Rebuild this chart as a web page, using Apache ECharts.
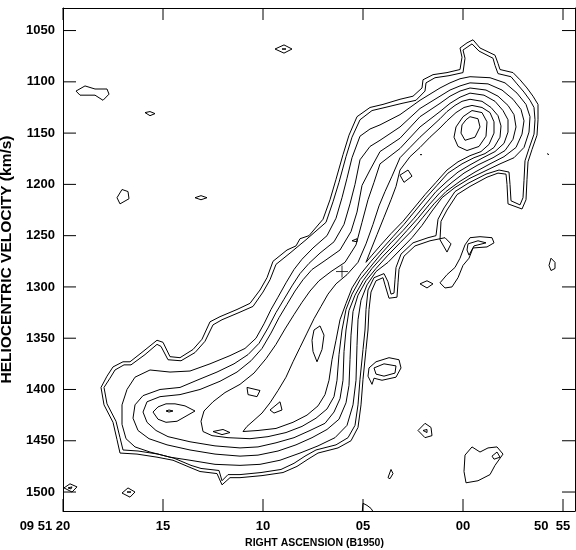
<!DOCTYPE html>
<html>
<head>
<meta charset="utf-8">
<script src="https://cdn.jsdelivr.net/npm/echarts@6/dist/echarts.min.js"></script>
<style>
html, body { margin: 0; padding: 0; background: #fff; }
#chart { width: 576px; height: 550px; }
</style>
</head>
<body>
<div id="chart"></div>
<script>
// axis ticks: RA is given in seconds after 09 51 00 (negative = 09 50 ..)
let raTicks = [20, 15, 10, 5, 0, -5];
let raLabels = ['09 51 20          ', '15', '10', '05', '00', '50  55      '];
let velTicks = [1050, 1100, 1150, 1200, 1250, 1300, 1350, 1400, 1450, 1500];
let raMin = -5.6, raMax = 20;
let velMin = 1028, velMax = 1518.5;

// contours, points are [RA s, velocity km/s]
let outer1 = [[-0.50,1059],[-0.85,1067],[-1.60,1074],[-1.75,1082],[-1.85,1088],[-2.50,1091],[-2.85,1098],[-3.20,1106],[-3.50,1114],[-3.75,1122],[-3.75,1137],[-3.70,1152],[-3.45,1166],[-3.25,1178],[-3.20,1195],[-3.15,1215],[-2.95,1224],[-2.25,1219],[-2.20,1200],[-2.15,1190],[-1.75,1189],[-1.20,1193],[-0.35,1202],[0.30,1210],[0.80,1225],[1.10,1236],[1.15,1254],[0.80,1266],[0.60,1258],[0.90,1252],[1.65,1255],[2.40,1260],[2.95,1270],[3.20,1283],[3.25,1296],[3.30,1310],[3.70,1311],[3.90,1298],[4.00,1291],[4.35,1294],[4.60,1305],[4.70,1322],[4.75,1342],[4.85,1361],[5.00,1390],[5.10,1415],[5.25,1437],[5.60,1450],[6.25,1457],[7.25,1462],[7.75,1468],[8.30,1475],[9.00,1481],[10.05,1484],[11.15,1486],[11.65,1486],[12.05,1493],[12.30,1482],[13.15,1480],[13.65,1476],[14.50,1469],[15.30,1466],[16.30,1463],[17.15,1462],[17.30,1449],[17.50,1432],[17.95,1415],[18.10,1398],[17.80,1387],[17.50,1378],[17.00,1373],[16.65,1373],[16.00,1363],[15.30,1352],[15.00,1354],[14.65,1368],[14.15,1369],[13.50,1361],[13.05,1351],[12.65,1334],[12.15,1329],[11.30,1322],[10.65,1316],[10.15,1303],[9.80,1291],[9.50,1275],[8.80,1264],[8.35,1260],[8.15,1253],[7.70,1250],[7.00,1234],[6.65,1215],[6.35,1195],[6.00,1171],[5.70,1152],[5.30,1134],[4.65,1125],[4.00,1122],[3.15,1117],[2.50,1114],[2.05,1106],[2.00,1098],[1.50,1093],[0.80,1091],[0.15,1088],[0.05,1076],[0.15,1067],[-0.20,1062],[-0.50,1059]];
let outer2 = [[-0.45,1063],[-0.80,1070],[-1.50,1077],[-1.60,1084],[-1.75,1092],[-2.40,1095],[-2.70,1102],[-3.05,1110],[-3.35,1118],[-3.55,1125],[-3.60,1137],[-3.55,1151],[-3.30,1165],[-3.10,1177],[-3.05,1196],[-3.00,1213],[-2.85,1220],[-2.40,1216],[-2.35,1200],[-2.30,1188],[-1.80,1186],[-1.15,1190],[-0.25,1199],[0.40,1207],[0.95,1223],[1.25,1234],[1.35,1250],[1.75,1252],[2.50,1257],[3.10,1268],[3.35,1281],[3.40,1293],[3.45,1306],[3.60,1307],[3.75,1295],[3.95,1287],[4.45,1291],[4.75,1303],[4.85,1322],[4.90,1342],[5.00,1361],[5.15,1390],[5.25,1415],[5.40,1435],[5.75,1447],[6.35,1454],[7.35,1459],[7.90,1465],[8.45,1472],[9.10,1478],[10.10,1481],[11.15,1483],[11.75,1483],[12.05,1489],[12.20,1479],[13.10,1477],[13.60,1474],[14.45,1467],[15.25,1463],[16.25,1460],[17.00,1459],[17.15,1447],[17.35,1431],[17.80,1414],[17.95,1398],[17.65,1389],[17.40,1381],[16.95,1376],[16.60,1376],[15.90,1366],[15.30,1356],[15.10,1358],[14.75,1371],[14.10,1372],[13.40,1364],[12.90,1353],[12.50,1337],[12.05,1332],[11.20,1325],[10.50,1319],[10.00,1305],[9.65,1293],[9.35,1278],[8.65,1267],[7.85,1254],[6.85,1237],[6.50,1217],[6.20,1198],[5.85,1173],[5.55,1154],[5.15,1137],[4.55,1128],[3.90,1125],[3.05,1121],[2.35,1118],[1.90,1109],[1.85,1101],[1.40,1096],[0.70,1094],[0.00,1091],[-0.10,1077],[0.00,1069],[-0.30,1065],[-0.45,1063]];
let level3 = [[-0.35,1095],[-1.35,1096],[-2.10,1101],[-2.70,1111],[-3.15,1122],[-3.35,1134],[-3.30,1149],[-3.05,1164],[-2.55,1174],[-1.85,1180],[-1.10,1187],[-0.35,1194],[0.40,1203],[1.05,1213],[1.55,1226],[2.05,1240],[2.55,1252],[3.15,1264],[3.75,1276],[4.35,1285],[4.80,1298],[5.10,1313],[5.25,1332],[5.30,1357],[5.35,1391],[5.50,1415],[5.80,1435],[6.40,1447],[7.25,1455],[8.15,1462],[9.15,1469],[10.15,1473],[11.15,1474],[12.40,1473],[13.65,1469],[14.65,1466],[15.65,1461],[16.40,1456],[16.85,1448],[17.05,1434],[17.05,1415],[16.80,1400],[16.40,1388],[15.65,1381],[14.65,1383],[13.65,1382],[12.65,1375],[11.65,1367],[10.90,1360],[10.35,1350],[9.95,1336],[9.60,1322],[9.25,1310],[8.85,1296],[8.45,1283],[8.05,1273],[7.50,1262],[6.80,1250],[6.35,1233],[6.05,1213],[5.80,1194],[5.55,1174],[5.15,1153],[4.65,1146],[4.15,1142],[3.15,1132],[2.15,1118],[1.15,1106],[0.65,1101],[0.15,1097],[-0.35,1095]];
let level4 = [[-0.35,1101],[-1.25,1102],[-1.95,1108],[-2.50,1117],[-2.90,1127],[-3.05,1138],[-2.95,1151],[-2.65,1164],[-2.05,1173],[-1.35,1180],[-0.60,1188],[0.15,1197],[0.85,1207],[1.45,1219],[2.00,1232],[2.55,1245],[3.15,1257],[3.75,1269],[4.35,1282],[4.85,1294],[5.25,1308],[5.50,1324],[5.60,1347],[5.65,1371],[5.70,1396],[5.85,1413],[6.20,1429],[6.80,1439],[7.55,1447],[8.35,1454],[9.25,1460],[10.25,1464],[11.15,1465],[12.40,1463],[13.65,1459],[14.80,1454],[15.70,1448],[16.25,1440],[16.50,1428],[16.40,1415],[16.00,1406],[15.15,1400],[14.15,1398],[13.30,1391],[12.30,1383],[11.45,1375],[10.75,1366],[10.20,1355],[9.75,1340],[9.35,1325],[8.95,1312],[8.55,1299],[8.15,1287],[7.70,1277],[7.15,1267],[6.45,1256],[5.95,1239],[5.65,1219],[5.40,1200],[5.15,1176],[4.65,1163],[4.15,1157],[3.15,1144],[2.15,1126],[1.15,1114],[0.65,1108],[0.15,1104],[-0.35,1101]];
let level5 = [[-0.35,1106],[-1.15,1108],[-1.75,1114],[-2.25,1123],[-2.55,1132],[-2.65,1144],[-2.50,1156],[-2.10,1167],[-1.50,1174],[-0.75,1181],[-0.05,1189],[0.55,1198],[1.15,1208],[1.70,1220],[2.25,1233],[2.80,1245],[3.40,1258],[4.00,1270],[4.55,1282],[5.00,1294],[5.40,1308],[5.70,1323],[5.85,1342],[5.95,1363],[6.00,1391],[6.15,1409],[6.45,1422],[6.90,1433],[7.65,1440],[8.45,1447],[9.35,1452],[10.25,1456],[11.15,1457],[12.40,1455],[13.65,1451],[14.75,1446],[15.35,1440],[15.80,1432],[16.00,1422],[15.80,1412],[15.15,1407],[14.15,1405],[13.15,1400],[12.15,1392],[11.30,1383],[10.60,1372],[10.05,1360],[9.60,1345],[9.20,1330],[8.80,1317],[8.40,1304],[8.00,1293],[7.55,1283],[6.95,1275],[6.15,1264],[5.60,1246],[5.30,1227],[5.05,1201],[4.65,1186],[4.15,1168],[3.15,1155],[2.15,1134],[1.15,1121],[0.65,1114],[0.15,1109],[-0.35,1106]];
let level6 = [[-0.35,1111],[-1.05,1113],[-1.60,1119],[-2.00,1128],[-2.25,1137],[-2.25,1149],[-2.05,1160],[-1.60,1168],[-1.00,1174],[-0.35,1181],[0.25,1188],[0.80,1197],[1.35,1207],[1.90,1220],[2.45,1233],[3.00,1245],[3.60,1257],[4.15,1269],[4.65,1281],[5.15,1293],[5.55,1307],[5.85,1322],[6.05,1342],[6.20,1366],[6.30,1391],[6.45,1407],[6.80,1419],[7.35,1428],[8.05,1436],[8.85,1442],[9.75,1446],[10.65,1448],[11.75,1447],[12.55,1445],[13.00,1441],[13.10,1431],[12.95,1421],[12.50,1412],[11.90,1403],[11.15,1395],[10.45,1384],[9.85,1370],[9.35,1356],[8.90,1341],[8.45,1327],[8.05,1315],[7.65,1304],[7.20,1294],[6.60,1285],[5.90,1276],[5.35,1259],[5.05,1237],[4.75,1215],[4.45,1198],[4.15,1180],[3.15,1165],[2.15,1144],[1.15,1129],[0.65,1121],[0.15,1115],[-0.35,1111]];
let level7 = [[-0.35,1117],[-0.95,1119],[-1.40,1125],[-1.75,1133],[-1.90,1143],[-1.85,1154],[-1.55,1164],[-1.10,1170],[-0.55,1174],[0.05,1180],[0.75,1189],[1.30,1201],[1.85,1213],[2.40,1226],[2.95,1239],[3.50,1251],[4.05,1263],[4.60,1275],[5.10,1287],[5.55,1301],[5.85,1316],[6.15,1332],[6.35,1352],[6.55,1371],[6.70,1391],[6.90,1405],[7.25,1416],[7.80,1425],[8.50,1432],[9.35,1438],[10.25,1440],[11.00,1441],[10.80,1436],[10.45,1430],[10.05,1423],[9.65,1413],[9.25,1401],[8.85,1388],[8.50,1373],[8.15,1359],[7.80,1345],[7.45,1331],[7.10,1319],[6.75,1307],[6.35,1297],[5.80,1288],[5.25,1276],[4.85,1258],[4.50,1239],[4.20,1221],[3.90,1207],[3.55,1192],[3.15,1174],[2.65,1164],[2.15,1154],[1.65,1145],[1.15,1136],[0.80,1129],[0.40,1123],[0.05,1119],[-0.35,1117]];
let level8 = [[-0.45,1123],[-0.95,1125],[-1.35,1130],[-1.55,1139],[-1.55,1150],[-1.30,1161],[-0.90,1168],[-0.35,1172],[0.25,1178],[0.80,1186],[1.35,1198],[1.90,1210],[2.45,1223],[3.00,1236],[3.60,1248],[4.15,1260],[4.55,1269],[4.85,1276],[4.65,1266],[4.30,1249],[3.95,1232],[3.60,1215],[3.35,1202],[3.15,1186],[2.65,1173],[2.15,1164],[1.65,1154],[1.15,1145],[0.80,1138],[0.35,1130],[-0.05,1125],[-0.45,1123]];
let ringA2 = [[-0.45,1128],[-0.95,1130],[-1.20,1139],[-1.15,1153],[-0.80,1163],[-0.20,1167],[0.25,1163],[0.45,1154],[0.35,1144],[0.00,1134],[-0.45,1128]];
let ringA1 = [[-0.35,1134],[-0.75,1136],[-0.85,1144],[-0.60,1154],[-0.10,1157],[0.10,1150],[0.05,1142],[-0.15,1137],[-0.35,1134]];
let eyeB = [[15.50,1422],[15.25,1417],[14.85,1414],[14.40,1414],[13.90,1416],[13.40,1421],[13.85,1426],[14.30,1431],[14.85,1432],[15.25,1429],[15.50,1422]];
let dotB = [[14.85,1421],[14.70,1420],[14.50,1421],[14.70,1422],[14.85,1421]];

// small isolated contours
let islands = [
  [[9.40,1068],[8.95,1064],[8.55,1068],[8.95,1072],[9.40,1068]],
  [[9.05,1068],[8.95,1067],[8.85,1068],[8.95,1069],[9.05,1068]],
  [[19.35,1109],[18.90,1104],[18.40,1107],[17.80,1107],[17.70,1112],[18.00,1118],[18.40,1113],[19.15,1113],[19.35,1109]],
  [[15.90,1130],[15.65,1129],[15.40,1131],[15.65,1133],[15.90,1130]],
  [[17.05,1205],[16.75,1207],[16.70,1214],[17.15,1219],[17.30,1213],[17.05,1205]],
  [[13.40,1213],[13.10,1211],[12.80,1213],[13.10,1215],[13.40,1213]],
  [[-4.20,1170],[-4.30,1170],[-4.30,1171],[-4.20,1171],[-4.20,1170]],
  [[-4.40,1272],[-4.60,1276],[-4.60,1282],[-4.40,1284],[-4.30,1279],[-4.40,1272]],
  [[1.15,1296],[0.80,1288],[0.40,1281],[0.15,1272],[-0.10,1259],[-0.35,1252],[-0.85,1251],[-1.45,1252],[-1.55,1257],[-1.20,1261],[-0.50,1262],[-0.30,1272],[0.00,1279],[0.25,1291],[0.55,1300],[0.90,1301],[1.15,1296]],
  [[-0.25,1258],[-0.75,1255],[-1.15,1257],[-0.55,1260],[-0.30,1269],[-0.20,1264],[-0.25,1258]],
  [[2.15,1297],[1.80,1294],[1.50,1297],[1.80,1301],[2.15,1297]],
  [[4.70,1379],[4.35,1373],[3.70,1369],[3.20,1371],[3.10,1379],[3.35,1388],[4.05,1391],[4.45,1389],[4.55,1395],[4.75,1387],[4.70,1379]],
  [[4.45,1379],[3.95,1375],[3.35,1377],[3.40,1384],[3.95,1387],[4.35,1385],[4.45,1379]],
  [[2.25,1440],[1.90,1433],[1.60,1437],[1.55,1445],[1.90,1447],[2.25,1440]],
  [[2.00,1440],[1.80,1439],[1.80,1442],[2.00,1440]],
  [[3.75,1486],[3.60,1478],[3.50,1482],[3.65,1487],[3.75,1486]],
  [[-0.10,1464],[-0.45,1456],[-0.85,1461],[-1.25,1457],[-1.70,1456],[-2.00,1463],[-1.60,1474],[-1.35,1483],[-0.75,1489],[-0.15,1491],[-0.05,1480],[-0.10,1464]],
  [[-1.45,1465],[-1.70,1461],[-1.85,1466],[-1.55,1468],[-1.45,1465]],
  [[5.05,1522],[5.00,1511],[4.80,1513],[4.60,1516],[4.40,1522]],
  [[17.05,1501],[16.75,1496],[16.40,1500],[16.65,1505],[17.05,1501]],
  [[16.80,1500],[16.70,1499],[16.60,1500],[16.70,1501],[16.80,1500]],
  [[19.95,1496],[19.65,1492],[19.30,1495],[19.55,1500],[19.95,1496]],
  [[19.75,1496],[19.55,1495],[19.60,1497],[19.75,1496]],
  [[10.80,1398],[10.15,1401],[10.30,1407],[10.75,1405],[10.80,1398]],
  [[9.65,1420],[9.15,1412],[9.05,1420],[9.45,1423],[9.65,1420]],
  [[12.50,1441],[12.00,1439],[11.65,1442],[12.05,1444],[12.50,1441]],
  [[5.55,1255],[5.30,1253],[5.30,1256],[5.55,1255]],
  [[3.15,1191],[2.75,1186],[2.55,1192],[2.95,1198],[3.15,1191]],
  [[2.15,1171],[2.10,1170],[2.05,1171],[2.10,1172],[2.15,1171]],
  [[7.45,1342],[7.15,1338],[6.95,1347],[7.05,1361],[7.30,1373],[7.50,1363],[7.55,1352],[7.45,1342]]
];

// the cross marks the centre
let centre = [6.05, 1285];

let chart = echarts.init(document.getElementById('chart'));

let contours = [outer1, outer2, level3, level4, level5, level6, level7, level8, ringA2, ringA1, eyeB, dotB].concat(islands);

let series = contours.map(function (pts) {
    return {
        type: 'line',
        data: pts,
        symbol: 'none',
        silent: true,
        lineStyle: { color: '#000', width: 1 }
    };
});
series.push({
    type: 'scatter',
    data: [centre],
    symbol: 'path://M0,6L12,6M6,0L6,12',
    symbolSize: 12,
    silent: true,
    itemStyle: { color: 'rgba(0,0,0,0)', borderColor: '#000', borderWidth: 1 }
});

// inward frame ticks, built from the tick arrays; lengths are 12-13 px in axis units
let gridW = 512, gridH = 503;
let raTickLen = 13 * (raMax - raMin) / gridW;
let velTickLen = 12 * (velMax - velMin) / gridH;
function tickLine(pts) {
    return { type: 'line', data: pts, symbol: 'none', silent: true, lineStyle: { color: '#000', width: 1 } };
}
raTicks.forEach(function (v) {
    series.push(tickLine([[v, velMax], [v, velMax - velTickLen]]));
    series.push(tickLine([[v, velMin], [v, velMin + velTickLen]]));
});
velTicks.forEach(function (v) {
    series.push(tickLine([[raMax, v], [raMax - raTickLen, v]]));
    series.push(tickLine([[raMin, v], [raMin + raTickLen, v]]));
});

let labelFont = { color: '#000', fontWeight: 'bold', fontSize: 13, fontFamily: 'Liberation Sans' };
let frame = { show: true, onZero: false, lineStyle: { color: '#000', width: 1 } };

let option = {
    animation: false,
    grid: {
        left: 63, right: 1, top: 8, bottom: 39,
        containLabel: false,
        outerBounds: { left: -3000, top: -3000, right: -3000, bottom: -3000 }
    },
    xAxis: [{
        type: 'value', position: 'bottom', inverse: true, min: raMin, max: raMax,
        name: 'RIGHT ASCENSION (B1950)', nameLocation: 'middle', nameGap: 26,
        nameTextStyle: Object.assign({}, labelFont, { fontSize: 10.5, padding: [0, 9, 0, 0] }),
        axisLine: frame,
        axisTick: { show: false },
        axisLabel: Object.assign({
            customValues: raTicks, margin: 9, hideOverlap: false,
            formatter: function (v) { return raLabels[raTicks.indexOf(v)]; }
        }, labelFont),
        splitLine: { show: false }
    }, {
        type: 'value', position: 'top', inverse: true, min: raMin, max: raMax,
        axisLine: frame,
        axisTick: { show: false },
        axisLabel: { show: false },
        splitLine: { show: false }
    }],
    yAxis: [{
        type: 'value', position: 'left', inverse: true, min: velMin, max: velMax,
        name: 'HELIOCENTRIC VELOCITY (km/s)', nameLocation: 'middle', nameGap: 34,
        nameTextStyle: Object.assign({}, labelFont, { fontSize: 15.5 }),
        axisLine: frame,
        axisTick: { show: false },
        axisLabel: Object.assign({
            customValues: velTicks, margin: 8,
            formatter: function (v) { return String(v); }
        }, labelFont),
        splitLine: { show: false }
    }, {
        type: 'value', position: 'right', inverse: true, min: velMin, max: velMax,
        axisLine: frame,
        axisTick: { show: false },
        axisLabel: { show: false },
        splitLine: { show: false }
    }],
    series: series
};

chart.setOption(option);
</script>
</body>
</html>
